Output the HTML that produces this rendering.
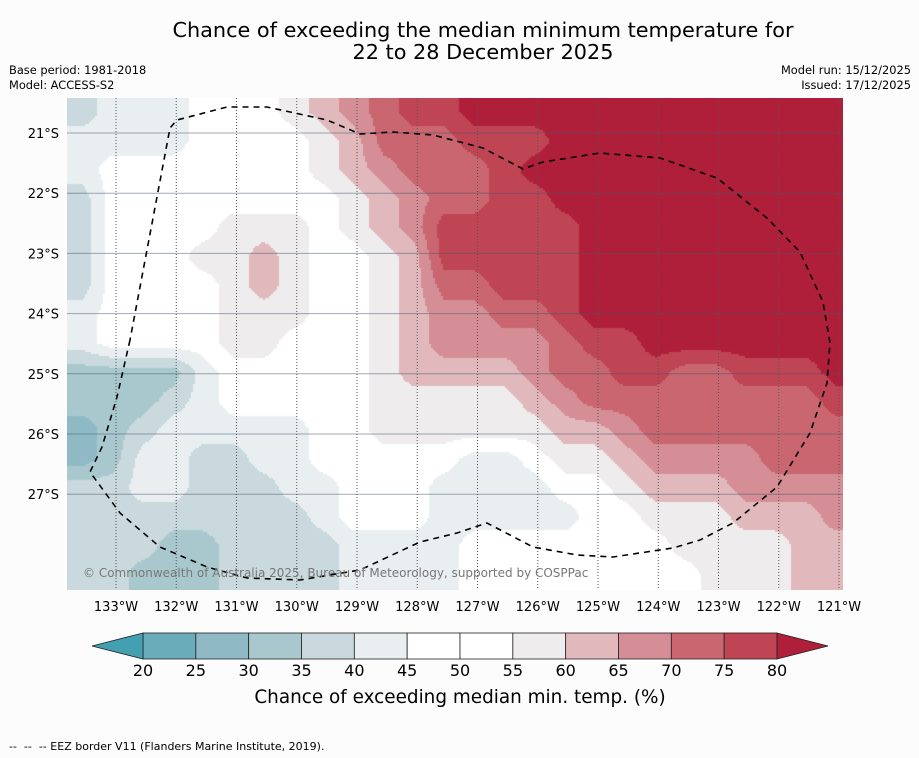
<!DOCTYPE html>
<html><head><meta charset="utf-8">
<style>
body{margin:0;background:#fcfcfc;font-family:"DejaVu Sans","Liberation Sans",sans-serif;}
#wrap{position:relative;width:919px;height:758px;overflow:hidden;background:#fcfcfc;}
.t{position:absolute;white-space:pre;color:#000;}
</style></head>
<body>
<div id="wrap">
<div class="t" style="left:0;width:966px;text-align:center;top:19px;font-size:20.8px;line-height:22px;">Chance of exceeding the median minimum temperature for
22 to 28 December 2025</div>
<div class="t" style="left:9px;top:63px;font-size:11.4px;line-height:15px;">Base period: 1981-2018
Model: ACCESS-S2</div>
<div class="t" style="right:8px;top:63px;font-size:11.4px;line-height:15px;text-align:right;">Model run: 15/12/2025
Issued: 17/12/2025</div>
<canvas id="map" width="776" height="492" style="position:absolute;left:67px;top:98px;"></canvas>
<svg id="ov" width="919" height="758" style="position:absolute;left:0;top:0;"></svg>
<div class="t" style="left:9px;top:740px;font-size:11px;">--  --  -- EEZ border V11 (Flanders Marine Institute, 2019).</div>
</div>
<script>
const lonStart=133.55, dLon=0.5, latStart=20.65, dLat=0.48;
const levels=[20,25,30,35,40,45,55,60,65,70,75,80];
const levelColors=["#43a0b0","#6aacb9","#8fbac5","#a9c8cd","#c9d9dd","#e9eff1","#ffffff","#eeeced","#e1b9bd","#d58e96","#c9666f","#bf4554","#b01f3a"];
const cbTicks=[20,25,30,35,40,45,50,55,60,65,70,75,80];
const cbColors=["#6aacb9","#8fbac5","#a9c8cd","#c9d9dd","#e9eff1","#ffffff","#ffffff","#eeeced","#e1b9bd","#d58e96","#c9666f","#bf4554"];
const lonTicks=[133,132,131,130,129,128,127,126,125,124,123,122,121];
const latTicks=[21,22,23,24,25,26,27];
const row0=[37,42,42,42,50,50,50,57,62,67,72,77,77,85,85,85,85,85,85,85,85,85,85,85,85,85];
const row1=[42,42,42,42,50,50,50,50,57,62,72,72,72,77,77,77,85,85,85,85,85,85,85,85,85,85];
const row2=[42,50,50,50,50,50,50,50,57,62,67,72,72,72,77,85,85,85,85,85,85,85,85,85,85,85];
const row3=[37,50,50,50,50,50,50,50,50,57,62,67,72,72,77,77,85,85,85,85,85,85,85,85,85,85];
const row4=[37,50,50,50,50,57,57,57,50,57,62,67,77,77,77,77,77,85,85,85,85,85,85,85,85,85];
const row5=[37,50,50,50,57,57,62,57,50,50,57,62,77,77,77,77,77,85,85,85,85,85,85,85,85,85];
const row6=[37,50,50,50,50,57,62,57,50,50,57,62,72,72,77,77,77,85,85,85,85,85,85,85,85,85];
const row7=[42,50,50,50,50,57,57,57,50,50,57,62,67,67,72,72,77,85,85,85,85,85,85,85,85,85];
const row8=[42,50,50,50,50,57,57,50,50,50,57,62,67,67,67,67,72,77,77,85,85,85,85,85,85,85];
const row9=[32,32,32,32,42,50,50,50,50,50,57,62,62,62,62,67,72,72,77,77,72,72,77,77,77,85];
const row10=[32,32,32,37,42,50,50,50,50,50,57,57,57,57,57,62,67,72,72,72,72,72,72,72,72,77];
const row11=[27,32,37,42,42,42,42,42,50,50,57,57,57,57,57,57,62,62,67,72,72,72,72,72,72,72];
const row12=[27,32,42,42,37,37,42,42,50,50,50,50,50,42,42,50,57,57,62,67,67,67,67,72,72,72];
const row13=[37,37,42,42,37,37,37,42,42,50,50,50,42,42,42,42,50,50,57,62,62,62,67,67,67,67];
const row14=[37,37,37,37,37,37,37,37,42,50,50,50,42,42,42,42,42,50,50,57,57,57,62,62,62,67];
const row15=[37,37,37,32,32,37,37,37,37,42,42,42,42,50,50,50,50,50,50,50,57,57,57,57,62,62];
const row16=[37,37,32,32,32,37,37,37,37,42,42,42,42,50,50,50,50,50,50,50,50,57,57,57,62,62];
const grid=[row0,row1,row2,row3,row4,row5,row6,row7,row8,row9,row10,row11,row12,row13,row14,row15,row16];

const X0=67,Y0=98,W=776,H=492;
function xOf(lon){return 116+(133-lon)*60.25;}
function yOf(lat){return 133+(lat-21)*60.2;}
function lonOf(x){return 133-(x-116)/60.25;}
function latOf(y){return 21+(y-133)/60.2;}
function cls(v){let i=0;while(i<levels.length&&v>=levels[i])i++;return i;}
const ncol=grid[0].length,nrow=grid.length;
const cg=grid.map(r=>r.map(v=>cls(v)-0.5));
const cv=document.getElementById('map'),ctx=cv.getContext('2d');
const S=2;
for(let py=0;py<H;py+=S){
  for(let px=0;px<W;px+=S){
    const lon=lonOf(X0+px+S/2),lat=latOf(Y0+py+S/2);
    let gi=(lonStart-lon)/dLon, gj=(lat-latStart)/dLat;
    gi=Math.max(0,Math.min(ncol-1.0001,gi)); gj=Math.max(0,Math.min(nrow-1.0001,gj));
    const i=Math.floor(gi),j=Math.floor(gj),fi=gi-i,fj=gj-j;
    const v=cg[j][i]*(1-fi)*(1-fj)+cg[j][i+1]*fi*(1-fj)+cg[j+1][i]*(1-fi)*fj+cg[j+1][i+1]*fi*fj;
    let k=Math.round(v+0.5);k=Math.max(0,Math.min(12,k));
    ctx.fillStyle=levelColors[k];
    ctx.fillRect(px,py,S,S);
  }
}
const NS='http://www.w3.org/2000/svg',svg=document.getElementById('ov');
function mk(tag,attrs,parent){const e=document.createElementNS(NS,tag);for(const k in attrs)e.setAttribute(k,attrs[k]);(parent||svg).appendChild(e);return e;}
latTicks.forEach(lat=>{
  const y=yOf(lat);
  const l=mk('line',{x1:X0,x2:X0+W,y1:y,y2:y,stroke:'rgba(70,85,110,0.5)','stroke-width':1});
  
  
  const t=mk('text',{x:59,y:y+5,'text-anchor':'end','font-size':13,'font-family':'DejaVu Sans, Liberation Sans, sans-serif'});
  t.textContent=lat+'°S';
  
  
});
lonTicks.forEach(lon=>{
  const x=xOf(lon);
  if(x<X0+W){
    const l=mk('line',{x1:x,x2:x,y1:Y0,y2:Y0+H,stroke:'#555','stroke-width':1,'stroke-dasharray':'1,2'});
    
    
  }
  const t=mk('text',{x:x,y:611,'text-anchor':'middle','font-size':13,'font-family':'DejaVu Sans, Liberation Sans, sans-serif'});
  t.textContent=lon+'°W';
  
  
});
const eez=[[130,340],[117,397],[102,447],[90,472],[120,513],[160,547],[207,567],[247,578],[300,580],[360,570],[420,542],[457,533],[487,523],[533,547],[577,555],[613,557],[673,548],[700,540],[733,523],[777,487],[810,433],[827,383],[830,343],[823,302],[800,252],[767,218],[717,178],[660,158],[600,153],[543,162],[523,169],[483,148],[433,135],[393,132],[360,134],[327,120],[267,107],[227,107],[177,120],[170,128],[130,340]];
const p=mk('path',{d:'M'+eez.map(q=>q.join(',')).join('L'),fill:'none',stroke:'#000','stroke-width':1.6,'stroke-dasharray':'6,5'});


const cp=mk('text',{x:83,y:577,'font-size':12,fill:'#777','font-family':'DejaVu Sans, Liberation Sans, sans-serif'});
cp.textContent='© Commonwealth of Australia 2025, Bureau of Meteorology, supported by COSPPac';


const cbX0=143,cbX1=777,cbY=633,cbH=26;
function cbx(v){return cbX0+(v-20)/60*(cbX1-cbX0);}
cbColors.forEach((c,i)=>{
  const r=mk('rect',{x:cbx(cbTicks[i]),y:cbY,width:cbx(cbTicks[i+1])-cbx(cbTicks[i]),height:cbH,fill:c,stroke:'#222','stroke-width':0.8});
  
  
});
const lt=mk('polygon',{points:`${cbX0},${cbY} 92,${cbY+cbH/2} ${cbX0},${cbY+cbH}`,fill:'#43a0b0',stroke:'#222','stroke-width':0.8});


const rt=mk('polygon',{points:`${cbX1},${cbY} 828,${cbY+cbH/2} ${cbX1},${cbY+cbH}`,fill:'#b01f3a',stroke:'#222','stroke-width':0.8});


cbTicks.forEach(v=>{
  const t=mk('text',{x:cbx(v),y:676,'text-anchor':'middle','font-size':16,'font-family':'DejaVu Sans, Liberation Sans, sans-serif'});
  t.textContent=v;
  
  
});
const ct=mk('text',{x:460,y:703,'text-anchor':'middle','font-size':18.4,'font-family':'DejaVu Sans, Liberation Sans, sans-serif'});
ct.textContent='Chance of exceeding median min. temp. (%)';


</script>
</body></html>
